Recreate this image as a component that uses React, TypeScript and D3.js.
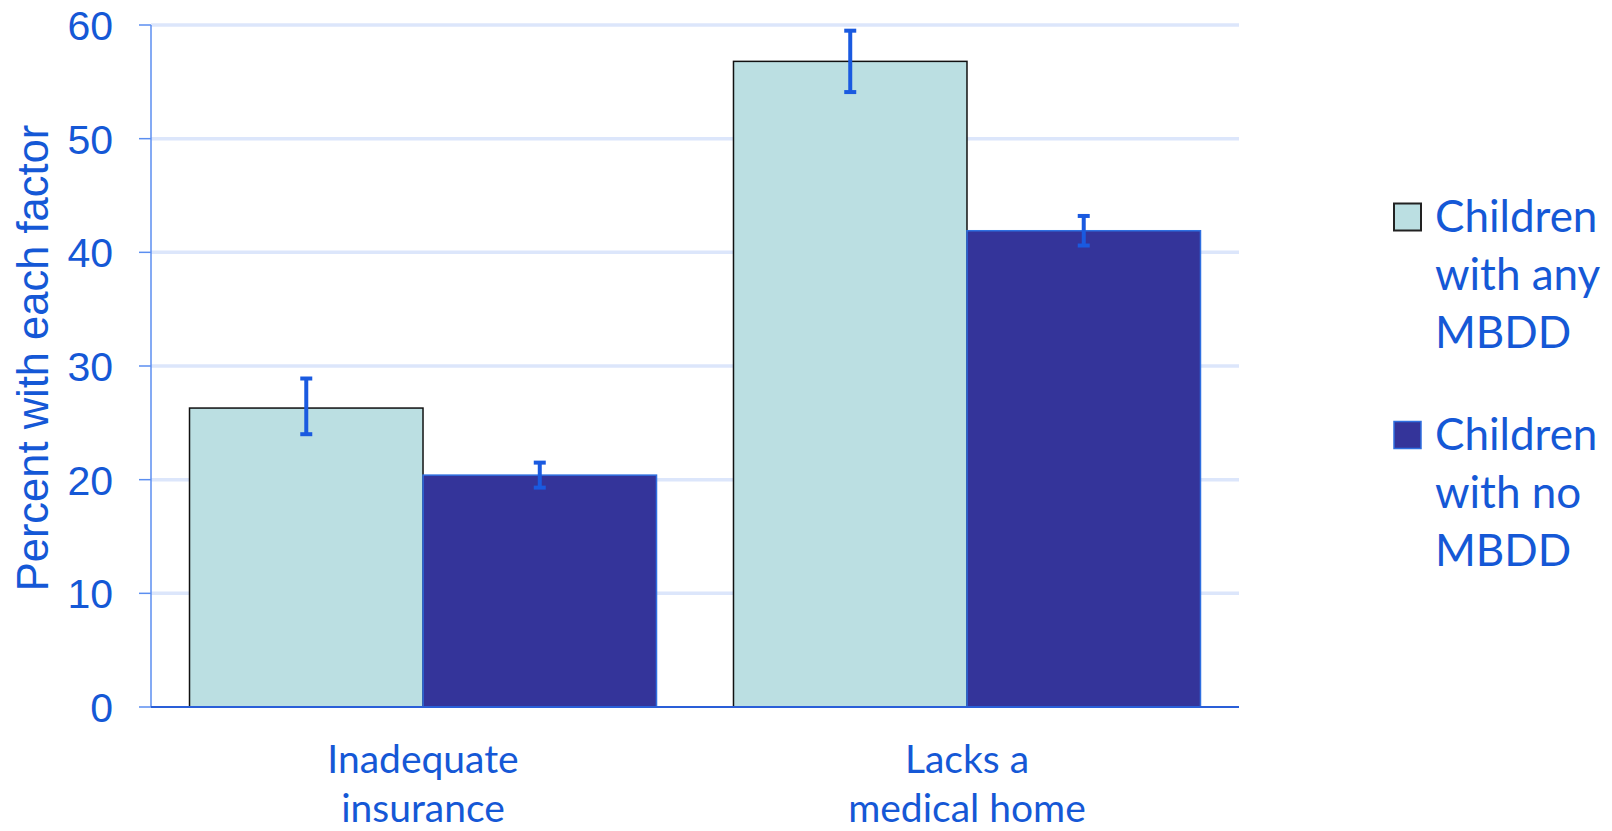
import React from "react";
import * as d3 from "d3";

const categories = ["Inadequate insurance", "Lacks a medical home"];
const categoryLines = [["Inadequate", "insurance"], ["Lacks a", "medical home"]];
const seriesNames = ["Children with any MBDD", "Children with no MBDD"];
const seriesLegendLines = [["Children", "with any", "MBDD"], ["Children", "with no", "MBDD"]];
const anyMBDD = [26.3, 56.8];
const anyMBDDLow = [24.0, 54.1];
const anyMBDDHigh = [28.9, 59.5];
const noMBDD = [20.4, 41.9];
const noMBDDLow = [19.3, 40.6];
const noMBDDHigh = [21.5, 43.2];
const yTicks = [0, 10, 20, 30, 40, 50, 60];
const yLabel = "Percent with each factor";

const W = 1612;
const H = 831;
const TEXT = "#1558d6";
const FILLS = ["#bbdfe2", "#34349a"];
const STROKES = ["#111111", "#2f6fe0"];

export default function App() {
  const left = 151;
  const right = 1239;
  const top = 25;
  const bottom = 707;

  const y = d3.scaleLinear().domain([0, 60]).range([bottom, top]);
  const x0 = d3
    .scaleBand<string>()
    .domain(categories)
    .range([left, right])
    .paddingInner(0.1415)
    .paddingOuter(0.0708);
  const x1 = d3
    .scaleBand<string>()
    .domain(seriesNames)
    .range([0, x0.bandwidth()]);

  const values = [anyMBDD, noMBDD];
  const lows = [anyMBDDLow, noMBDDLow];
  const highs = [anyMBDDHigh, noMBDDHigh];

  return (
    <svg
      width={W}
      height={H}
      style={{ position: "absolute", left: 0, top: 0, background: "#fff" }}
    >
      {/* gridlines */}
      {yTicks.slice(1).map((t) => (
        <line
          key={"g" + t}
          x1={left}
          x2={right}
          y1={y(t)}
          y2={y(t)}
          stroke="#dce6fb"
          strokeWidth={3.5}
        />
      ))}
      {/* y axis */}
      <line x1={left} x2={left} y1={top} y2={bottom} stroke="#5b8ef0" strokeWidth={1.5} />
      {yTicks.map((t) => (
        <g key={"t" + t}>
          <line x1={139} x2={left} y1={y(t)} y2={y(t)} stroke="#5b8ef0" strokeWidth={1.5} />
          <text
            x={113}
            y={y(t) + 15}
            textAnchor="end"
            fontFamily="'Liberation Sans', Arial, sans-serif"
            fontSize={41}
            fill={TEXT}
          >
            {t}
          </text>
        </g>
      ))}
      <text
        transform={`translate(48, 358) rotate(-90)`}
        textAnchor="middle"
        fontFamily="'Liberation Sans', Arial, sans-serif"
        fontSize={43.5}
        fill={TEXT}
      >
        {yLabel}
      </text>

      {/* bars */}
      {categories.map((c, ci) => (
        <g key={c}>
          {seriesNames.map((s, si) => {
            const bx = (x0(c) ?? 0) + (x1(s) ?? 0);
            const bw = x1.bandwidth();
            const v = values[si][ci];
            return (
              <rect
                key={s}
                x={bx}
                y={y(v)}
                width={bw}
                height={y(0) - y(v)}
                fill={FILLS[si]}
                stroke={STROKES[si]}
                strokeWidth={1.5}
              />
            );
          })}
        </g>
      ))}
      {/* baseline */}
      <line x1={left} x2={right} y1={y(0)} y2={y(0)} stroke="#2a5fd8" strokeWidth={2} />
      {/* error bars */}
      {categories.map((c, ci) => (
        <g key={"e" + c}>
          {seriesNames.map((s, si) => {
            const cx = (x0(c) ?? 0) + (x1(s) ?? 0) + x1.bandwidth() / 2;
            const lo = y(lows[si][ci]);
            const hi = y(highs[si][ci]);
            return (
              <g key={s} stroke="#1a5ae0" strokeWidth={4}>
                <line x1={cx} x2={cx} y1={hi} y2={lo} />
                <line x1={cx - 6} x2={cx + 6} y1={hi} y2={hi} />
                <line x1={cx - 6} x2={cx + 6} y1={lo} y2={lo} />
              </g>
            );
          })}
        </g>
      ))}
      {/* x labels */}
      {categories.map((c, ci) => (
        <text
          key={"xl" + c}
          x={(x0(c) ?? 0) + x0.bandwidth() / 2}
          y={773}
          textAnchor="middle"
          fontFamily="Lato, 'Open Sans', sans-serif"
          fontSize={39}
          fill={TEXT}
        >
          {categoryLines[ci].map((ln, li) => (
            <tspan key={li} x={(x0(c) ?? 0) + x0.bandwidth() / 2} y={773 + li * 49}>
              {ln}
            </tspan>
          ))}
        </text>
      ))}
      {/* legend */}
      {seriesNames.map((s, si) => {
        const baseY = 232 + si * 218;
        return (
          <g key={"lg" + s}>
            <rect
              x={1394}
              y={baseY - 28.5}
              width={27}
              height={27}
              fill={FILLS[si]}
              stroke={si === 0 ? "#222" : "#2f6fe0"}
              strokeWidth={si === 0 ? 2 : 1.5}
            />
            <text fontFamily="Lato, 'Open Sans', sans-serif" fontSize={44} fill={TEXT}>
              {seriesLegendLines[si].map((ln, li) => (
                <tspan key={li} x={1435} y={baseY + li * 58}>
                  {ln}
                </tspan>
              ))}
            </text>
          </g>
        );
      })}
    </svg>
  );
}
